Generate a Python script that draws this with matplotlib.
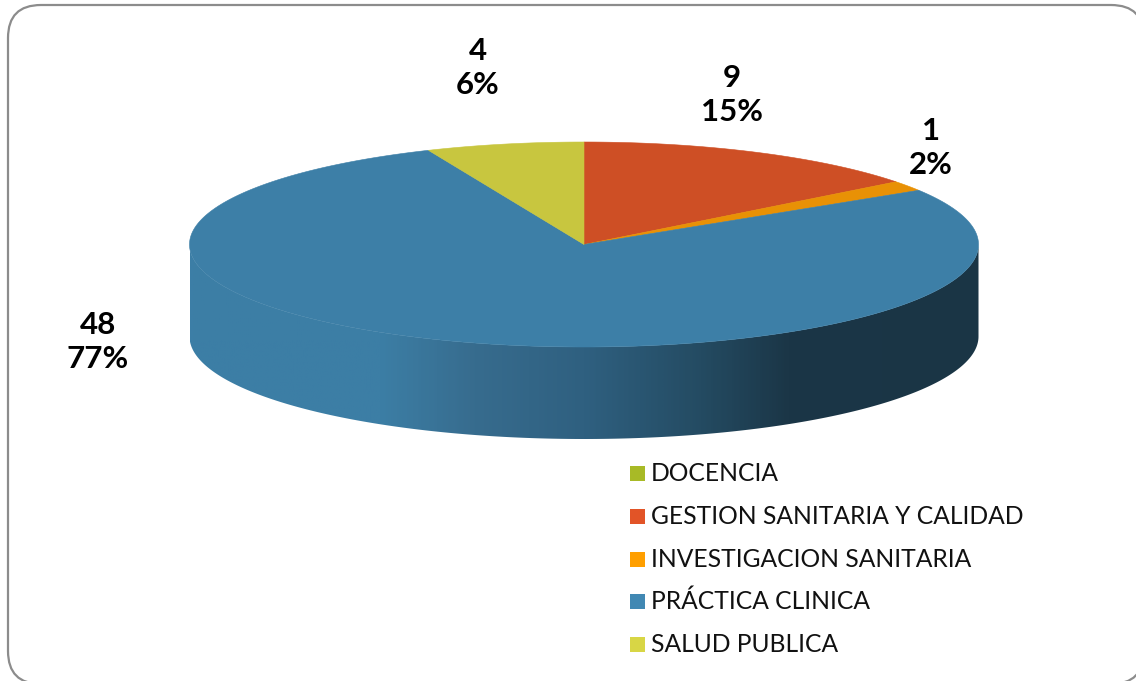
import numpy as np
import matplotlib
matplotlib.use("Agg")
import matplotlib.pyplot as plt
from matplotlib.colors import LinearSegmentedColormap
from matplotlib.patches import FancyBboxPatch, Polygon, Rectangle

categories = ["DOCENCIA", "GESTION SANITARIA Y CALIDAD", "INVESTIGACION SANITARIA",
              "PRÁCTICA CLINICA", "SALUD PUBLICA"]
values = [0, 9, 1, 48, 4]
percent_labels = ["0%", "15%", "2%", "77%", "6%"]
top_colors = ["#A5B825", "#CE4F25", "#E89105", "#3D7FA7", "#C8C63F"]
legend_colors = ["#A8BA26", "#E25427", "#FF9F00", "#4188B3", "#D8D645"]
label_xy = [None, (732, 95), (931, 148), (98, 342), (478, 68)]

plt.rcParams["font.family"] = ["Lato", "DejaVu Sans"]

fig = plt.figure(figsize=(11.36, 6.81), dpi=100)
ax = fig.add_axes([0, 0, 1, 1])
ax.set_xlim(0, 1136)
ax.set_ylim(681, 0)
ax.axis("off")

# frame runs just past the bottom and right of the picture
ax.add_patch(FancyBboxPatch((8, 5), 1136, 679, boxstyle="round,pad=0,rounding_size=33",
                            fc="white", ec="#8C8C8C", lw=1.6))

cx, cy = 584, 244.5
rx, ry = 394.5, 102.5
depth = 92


def rim(a0, a1, dy=0):
    # angles clockwise from the top of the pie, in degrees
    t = np.radians(np.linspace(a0, a1, max(int(abs(a1 - a0) * 3), 2)))
    return np.column_stack([cx + rx * np.sin(t), cy - ry * np.cos(t) + dy])


# side wall: front half of the rim, shaded left to right
front = np.vstack([rim(90, 270), rim(270, 90, depth)])
side = Polygon(front, closed=True, fc="none", ec="none")
ax.add_patch(side)
side_cmap = LinearSegmentedColormap.from_list("side", [
    (0.00, "#3C7EA6"), (0.24, "#3C7EA5"), (0.36, "#376C8E"), (0.50, "#2F6080"),
    (0.65, "#244B62"), (0.76, "#1B3647"), (1.00, "#1A3545"),
])
grad = np.linspace(0, 1, 400).reshape(1, -1)
im = ax.imshow(grad, cmap=side_cmap, extent=[cx - rx, cx + rx, cy + ry + depth, cy],
               aspect="auto", zorder=2)
im.set_clip_path(side)
ax.set_xlim(0, 1136)
ax.set_ylim(681, 0)

# top face, slices taken from the values
angles = np.cumsum([0] + values) / sum(values) * 360
for i, v in enumerate(values):
    if v == 0:
        continue
    pts = np.vstack([[cx, cy], rim(angles[i], angles[i + 1])])
    ax.add_patch(Polygon(pts, closed=True, fc=top_colors[i], ec=top_colors[i], lw=0.4, zorder=3))

for v, p, xy in zip(values, percent_labels, label_xy):
    if xy is None:
        continue
    ax.text(xy[0], xy[1], f"{v}\n{p}", ha="center", va="center", fontsize=22.5, fontweight="bold",
            color="black", linespacing=1.3, zorder=4)

# legend
legend_y = [473, 516, 559, 601, 644]
for name, c, y in zip(categories, legend_colors, legend_y):
    ax.add_patch(Rectangle((630, y - 7.5), 15, 15, fc=c, ec="none"))
    ax.text(651, y + 0.5, name, ha="left", va="center", fontsize=17.7, color="#111111")

fig.savefig("out.png", dpi=100)
